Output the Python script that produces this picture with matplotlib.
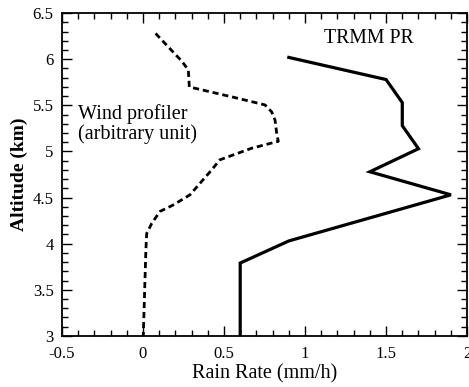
import matplotlib
matplotlib.use("Agg")
import matplotlib.pyplot as plt
from matplotlib.ticker import MultipleLocator

plt.rcParams['font.family'] = ['Liberation Serif', 'DejaVu Serif']

# TRMM PR rain rate profile
pr_rate = [0.9, 1.5, 1.6, 1.6, 1.7, 1.4, 1.9, 1.4, 0.9, 0.6, 0.6]
pr_alt = [6.02, 5.78, 5.53, 5.28, 5.03, 4.78, 4.53, 4.28, 4.03, 3.79, 3.0]

# Wind profiler (arbitrary unit)
wp_rate = [0.078, 0.239, 0.28, 0.286, 0.578, 0.753, 0.794, 0.815, 0.825, 0.835,
           0.67, 0.475, 0.414, 0.29, 0.187, 0.105, 0.054, 0.023, 0.018, 0.002]
wp_alt = [6.28, 5.98, 5.885, 5.70, 5.58, 5.505, 5.43, 5.34, 5.2, 5.11,
          5.035, 4.91, 4.78, 4.53, 4.42, 4.35, 4.22, 4.11, 3.93, 3.0]

xticks = [-0.5, 0, 0.5, 1, 1.5, 2]
xtick_labels = ['-0.5', '0', '0.5', '1', '1.5', '2']
yticks = [3, 3.5, 4, 4.5, 5, 5.5, 6, 6.5]
ytick_labels = ['3', '3.5', '4', '4.5', '5', '5.5', '6', '6.5']

fig = plt.figure(figsize=(4.69, 3.87), dpi=100)
ax = fig.add_axes([0.132, 0.132, 0.864, 0.834])

ax.plot(pr_rate, pr_alt, color='black', lw=2.3, solid_joinstyle='miter')
ax.plot(wp_rate, wp_alt, color='black', lw=2.0, dashes=(2.2, 1.4))

ax.text(-0.40, 5.30, "Wind profiler\n(arbitrary unit)", fontsize=14.5,
        ha='left', va='center', linespacing=1.0)
ax.text(1.12, 6.23, "TRMM PR", fontsize=14.2, ha='left', va='center')

ax.set_xlim(-0.5, 2)
ax.set_ylim(3, 6.5)
ax.set_xticks(xticks)
ax.set_xticklabels(xtick_labels)
ax.set_yticks(yticks)
ax.set_yticklabels(ytick_labels)
ax.xaxis.set_minor_locator(MultipleLocator(0.1))
ax.yaxis.set_minor_locator(MultipleLocator(0.1))
ax.tick_params(which='both', direction='in', top=True, right=True, width=1.0)
ax.tick_params(which='major', length=7, labelsize=12)
ax.tick_params(which='minor', length=4)
ax.tick_params(axis='y', pad=6)
ax.tick_params(axis='x', pad=7)
for s in ax.spines.values():
    s.set_linewidth(1.3)

ax.set_xlabel("Rain Rate (mm/h)", fontsize=14.5, labelpad=2)
ax.set_ylabel("Altitude (km)", fontsize=14, fontweight='bold', labelpad=3)

fig.savefig("out.png", dpi=100)
